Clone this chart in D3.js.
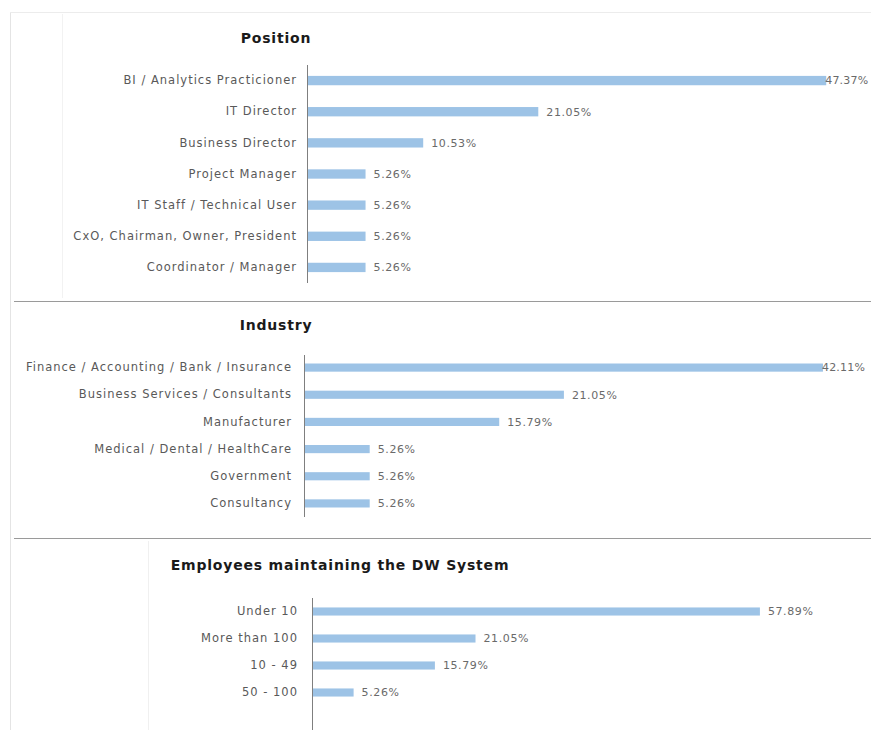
<!DOCTYPE html>
<html>
<head>
<meta charset="utf-8">
<script src="https://cdn.jsdelivr.net/npm/d3@7"></script>
<style>
  body { margin: 0; background: #fff; }
  svg { display: block; font-family: "DejaVu Sans", "Liberation Sans", sans-serif; }
  .cat { font-size: 11.5px; fill: #595959; letter-spacing: 1px; }
  .val { font-size: 11px; fill: #6a6a6a; letter-spacing: 0.6px; }
  .val.tight { letter-spacing: 0.2px; }
  .title { font-size: 14px; font-weight: bold; fill: #1a1a1a; letter-spacing: 0.8px; }
</style>
</head>
<body>
<div id="chart"></div>
<script>
'use strict';

// ---- data ----
var positionLabels = ['BI / Analytics Practicioner', 'IT Director', 'Business Director', 'Project Manager',
                      'IT Staff / Technical User', 'CxO, Chairman, Owner, President', 'Coordinator / Manager'];
var positionValues = [47.37, 21.05, 10.53, 5.26, 5.26, 5.26, 5.26];

var industryLabels = ['Finance / Accounting / Bank / Insurance', 'Business Services / Consultants', 'Manufacturer',
                      'Medical / Dental / HealthCare', 'Government', 'Consultancy'];
var industryValues = [42.11, 21.05, 15.79, 5.26, 5.26, 5.26];

var employeeLabels = ['Under 10', 'More than 100', '10 - 49', '50 - 100'];
var employeeValues = [57.89, 21.05, 15.79, 5.26];

var W = 871, H = 730;
var barColor = '#9dc3e6';

var svg = d3.select('#chart').append('svg')
    .attr('width', W)
    .attr('height', H);

// page frame and separators
svg.append('line').attr('x1', 10.5).attr('x2', 10.5).attr('y1', 12).attr('y2', H)
    .attr('stroke', '#e4e4e4');
svg.append('line').attr('x1', 10).attr('x2', W).attr('y1', 12.5).attr('y2', 12.5)
    .attr('stroke', '#ececec');
svg.append('line').attr('x1', 62.5).attr('x2', 62.5).attr('y1', 14).attr('y2', 298)
    .attr('stroke', '#f2f2f2');
svg.append('line').attr('x1', 148.5).attr('x2', 148.5).attr('y1', 541).attr('y2', H)
    .attr('stroke', '#f0f0f0');
[301.5, 538.5].forEach(function(y) {
    svg.append('line').attr('x1', 14).attr('x2', W).attr('y1', y).attr('y2', y)
        .attr('stroke', '#9a9a9a');
});

function drawPanel(cfg)
{
    var data = cfg.labels.map(function(l, i) { return {label: l, value: cfg.values[i]}; });

    var x = d3.scaleLinear().domain([0, 1]).range([cfg.x0, cfg.x0 + cfg.pxPerPct]);
    var y = d3.scaleBand().domain(cfg.labels).range([cfg.y0, cfg.y1]).paddingInner(0.7).paddingOuter(0.35);

    var g = svg.append('g');

    g.append('text')
        .attr('class', 'title')
        .attr('x', cfg.titleX)
        .attr('y', cfg.titleY)
        .attr('text-anchor', 'middle')
        .text(cfg.title);

    g.selectAll('rect.bar')
        .data(data)
        .enter().append('rect')
        .attr('class', 'bar')
        .attr('x', x(0))
        .attr('y', function(d) { return y(d.label); })
        .attr('width', function(d) { return x(d.value) - x(0); })
        .attr('height', y.bandwidth())
        .attr('fill', barColor);

    var axis = d3.axisLeft(y).tickSize(0).tickPadding(cfg.pad);
    var ag = g.append('g')
        .attr('transform', 'translate(' + x(0) + ',0)')
        .call(axis);
    ag.select('.domain').remove();
    ag.selectAll('text').attr('class', 'cat').attr('fill', null);
    ag.attr('font-family', null).attr('font-size', null);

    g.append('line')
        .attr('x1', x(0) - 0.5).attr('x2', x(0) - 0.5)
        .attr('y1', cfg.axisTop).attr('y2', cfg.axisBottom)
        .attr('stroke', '#7f7f7f');

    // labels that would run off the page sit right on the bar end (as in the original)
    function crowded(d) { return x(d.value) + 55 > W; }

    g.selectAll('text.val')
        .data(data)
        .enter().append('text')
        .attr('class', function(d) { return crowded(d) ? 'val tight' : 'val'; })
        .attr('x', function(d) { return x(d.value) + (crowded(d) ? -1 : 8); })
        .attr('y', function(d) { return y(d.label) + y.bandwidth() / 2; })
        .attr('dy', '0.35em')
        .text(function(d) { return d.value.toFixed(2) + '%'; });
}

drawPanel({
    title: 'Position', titleX: 276, titleY: 43,
    labels: positionLabels, values: positionValues,
    x0: 308, pxPerPct: 10.94, y0: 65, y1: 283, pad: 11,
    axisTop: 65, axisBottom: 283
});

drawPanel({
    title: 'Industry', titleX: 276, titleY: 330,
    labels: industryLabels, values: industryValues,
    x0: 305, pxPerPct: 12.3, y0: 354, y1: 517, pad: 13,
    axisTop: 355, axisBottom: 517
});

drawPanel({
    title: 'Employees maintaining the DW System', titleX: 340, titleY: 570,
    labels: employeeLabels, values: employeeValues,
    x0: 313, pxPerPct: 7.72, y0: 598, y1: 706, pad: 15,
    axisTop: 598, axisBottom: H
});
</script>
</body>
</html>
